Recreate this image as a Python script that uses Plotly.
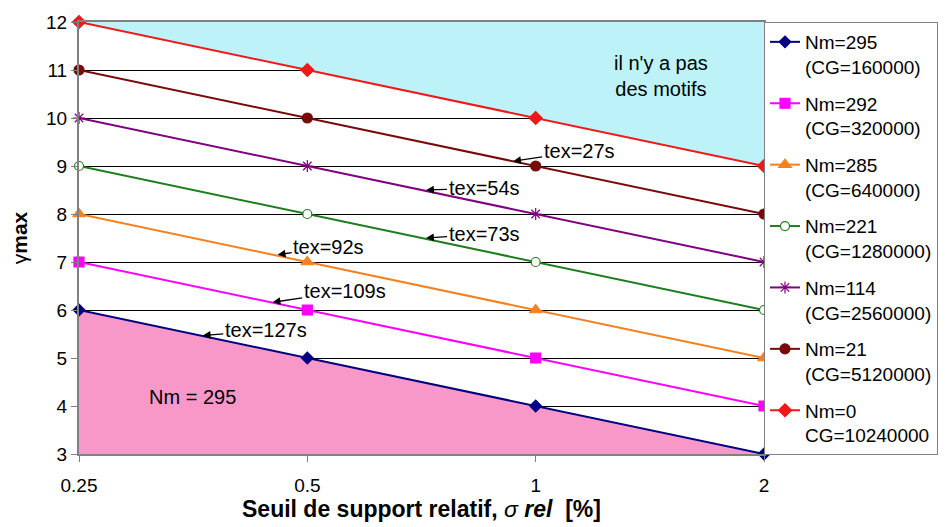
import numpy as np
import plotly.graph_objects as go

# Relative support thresholds (%) on the horizontal axis
seuils = [0.25, 0.5, 1, 2]
seuil_labels = ["0.25", "0.5", "1", "2"]

# gamma_max for each configuration (Nm patterns, CG candidate count)
y_nm295 = [6, 5, 4, 3]
y_nm292 = [7, 6, 5, 4]
y_nm285 = [8, 7, 6, 5]
y_nm221 = [9, 8, 7, 6]
y_nm114 = [10, 9, 8, 7]
y_nm21 = [11, 10, 9, 8]
y_nm0 = [12, 11, 10, 9]

series_names = [
    "Nm=295<br>(CG=160000)",
    "Nm=292<br>(CG=320000)",
    "Nm=285<br>(CG=640000)",
    "Nm=221<br>(CG=1280000)",
    "Nm=114<br>(CG=2560000)",
    "Nm=21<br>(CG=5120000)",
    "Nm=0<br>CG=10240000",
]
series_values = [y_nm295, y_nm292, y_nm285, y_nm221, y_nm114, y_nm21, y_nm0]

# Execution times shown next to the lines
tex_labels = ["tex=27s", "tex=54s", "tex=73s", "tex=92s", "tex=109s", "tex=127s"]

y_min, y_max = 3, 12

FONT = "Arial, Liberation Sans, sans-serif"

styles = [
    dict(color="#000080", symbol="diamond", size=9, fill="#000080"),
    dict(color="#FF00FF", symbol="square", size=10, fill="#FF00FF"),
    dict(color="#F7801E", symbol="triangle-up", size=11, fill="#F7801E"),
    dict(color="#1E7E1E", symbol="circle", size=9, fill="#FFFFFF"),
    dict(color="#800080", symbol="asterisk-open", size=10, fill="#800080"),
    dict(color="#7A0A0A", symbol="circle", size=10, fill="#7A0A0A"),
    dict(color="#F01818", symbol="diamond", size=10, fill="#F01818"),
]

fig = go.Figure()

# Region above the Nm=0 line: no patterns left
fig.add_trace(go.Scatter(
    x=seuils + [seuils[-1], seuils[0]],
    y=y_nm0 + [y_max, y_max],
    fill="toself", fillcolor="#BDF3F8", mode="lines",
    line=dict(width=0), showlegend=False, hoverinfo="skip",
))
# Region below the Nm=295 line
fig.add_trace(go.Scatter(
    x=seuils + [seuils[0]],
    y=y_nm295 + [y_min],
    fill="toself", fillcolor="#F898C9", mode="lines",
    line=dict(width=0), showlegend=False, hoverinfo="skip",
))

for i, (name, vals, st) in enumerate(zip(series_names, series_values, styles)):
    fig.add_trace(go.Scatter(
        x=seuils, y=vals, name=name, mode="lines+markers",
        legendgroup=f"g{i}",
        line=dict(color=st["color"], width=2),
        marker=dict(symbol=st["symbol"], size=st["size"], color=st["fill"],
                    line=dict(color=st["color"], width=1.2)),
        cliponaxis=False,
    ))

# Arrow heads (x, y) on the lines and text offsets in pixels
arrow_specs = [
    (0.934, 9.10, 66, -10),
    (0.717, 8.50, 58, -2),
    (0.717, 7.50, 58, -4),
    (0.457, 7.15, 51, -8),
    (0.450, 6.16, 72, -11),
    (0.364, 5.47, 63, -5),
]
for text, (hx, hy, ax, ay) in zip(tex_labels, arrow_specs):
    fig.add_annotation(
        x=np.log10(hx), y=hy, xref="x", yref="y", text=text,
        showarrow=True, arrowhead=2, arrowsize=1.2, arrowwidth=1.3,
        arrowcolor="#000000", ax=ax, ay=ay,
        font=dict(family=FONT, size=20, color="#000000"),
    )

fig.add_annotation(
    x=np.log10(0.353), y=4.19, text="Nm = 295", showarrow=False,
    font=dict(family=FONT, size=20, color="#000000"),
)
fig.add_annotation(
    x=np.log10(1.463), y=10.87, text="il n'y a pas<br>des motifs",
    showarrow=False, font=dict(family=FONT, size=20, color="#000000"),
)

fig.update_layout(
    width=950, height=527,
    margin=dict(l=79, r=186, t=17, b=71),
    paper_bgcolor="#FFFFFF", plot_bgcolor="#FFFFFF",
    font=dict(family=FONT, size=19, color="#000000"),
    legend=dict(
        x=1.0, xanchor="left", y=1.0, yanchor="top",
        bgcolor="#FFFFFF", bordercolor="#808080", borderwidth=1,
        font=dict(family=FONT, size=19), valign="top",
        tracegroupgap=9, itemwidth=30, maxheight=520,
    ),
    xaxis=dict(
        type="log", range=[np.log10(seuils[0]), np.log10(seuils[-1])],
        tickvals=seuils, ticktext=seuil_labels,
        ticks="outside", ticklen=6, tickcolor="#808080",
        ticklabelstandoff=7,
        showgrid=False, zeroline=False,
        showline=True, linecolor="#808080", linewidth=2, mirror=True,
        tickfont=dict(family=FONT, size=19),
        title=dict(
            text="<b>Seuil de support relatif, <span style='font-weight:normal'><i>σ</i></span> <i>rel</i>  [%]</b>",
            font=dict(family=FONT, size=23), standoff=3,
        ),
    ),
    yaxis=dict(
        range=[y_min, y_max], dtick=1,
        ticks="outside", ticklen=6, tickcolor="#808080",
        showgrid=True, gridcolor="#000000", gridwidth=1,
        zeroline=False,
        showline=True, linecolor="#808080", linewidth=2, mirror=True,
        tickfont=dict(family=FONT, size=19),
        title=dict(
            text="<span style='font-weight:normal'>γ</span><b>max</b>",
            font=dict(family=FONT, size=21), standoff=13,
        ),
    ),
)

fig.write_html("out.html")
